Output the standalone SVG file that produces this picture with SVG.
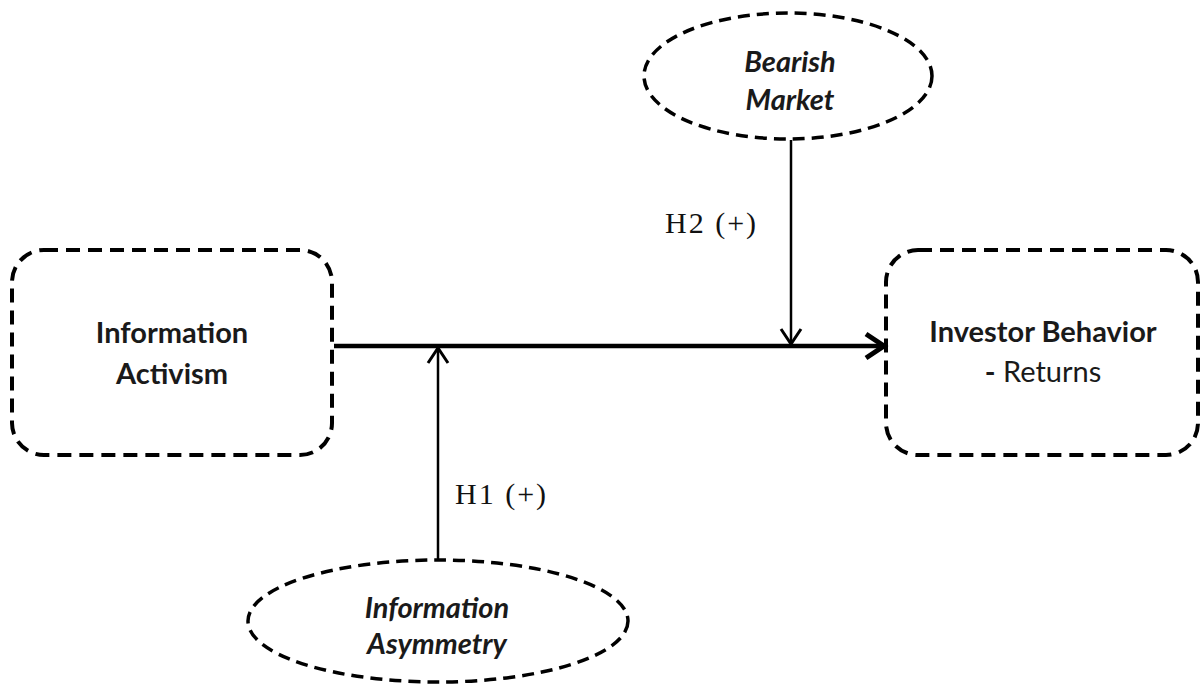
<svg xmlns="http://www.w3.org/2000/svg" width="1202" height="692" viewBox="0 0 1202 692">
<style>
.box{fill:none;stroke:#000;stroke-width:4;stroke-dasharray:14 8}
.ell{fill:none;stroke:#000;stroke-width:3.5;stroke-dasharray:12 7}
.t{font-family:Lato,"Open Sans",sans-serif;font-size:29px;fill:#1a1a1a;text-anchor:middle}
.b{font-weight:bold}
.i{font-style:italic;font-weight:bold}
.h{font-family:"Liberation Serif",serif;font-size:30px;fill:#111;letter-spacing:2px}
</style>
<defs>
<marker id="big" orient="auto" markerUnits="userSpaceOnUse" overflow="visible">
<path d="M-18,-12 L0,0 L-18,12" fill="none" stroke="#000" stroke-width="5"/>
</marker>
<marker id="sm" orient="auto" markerUnits="userSpaceOnUse" overflow="visible">
<path d="M-15,-10 L0,0 L-15,10" fill="none" stroke="#000" stroke-width="3"/>
</marker>
</defs>
<g id="connectors">
<line x1="334" y1="346" x2="884" y2="346" stroke="#000" stroke-width="4.5" marker-end="url(#big)"/>
<line x1="791" y1="140" x2="791" y2="344" stroke="#000" stroke-width="2.5" marker-end="url(#sm)"/>
<line x1="438" y1="560" x2="438" y2="348" stroke="#000" stroke-width="2.5" marker-end="url(#sm)"/>
</g>
<g id="info-activism">
<rect class="box" x="12" y="250" width="320" height="205" rx="32"/>
<text class="t b" x="172" y="343">Information</text>
<text class="t b" x="172" y="384">Activism</text>
</g>
<g id="investor-behavior">
<rect class="box" x="886" y="250" width="312" height="205" rx="32"/>
<text class="t b" x="1043" y="342">Investor Behavior</text>
<text class="t" x="1043" y="382"><tspan class="b">-</tspan> Returns</text>
</g>
<g id="bearish-market">
<ellipse class="ell" cx="788" cy="76" rx="144" ry="63"/>
<text class="t i" x="790" y="72">Bearish</text>
<text class="t i" x="790" y="110">Market</text>
</g>
<g id="info-asymmetry">
<ellipse class="ell" cx="438" cy="621" rx="190" ry="61"/>
<text class="t i" x="437" y="618">Information</text>
<text class="t i" x="437" y="654">Asymmetry</text>
</g>
<g id="labels">
<text class="h" x="665" y="233">H2 (+)</text>
<text class="h" x="455" y="504">H1 (+)</text>
</g>
</svg>
